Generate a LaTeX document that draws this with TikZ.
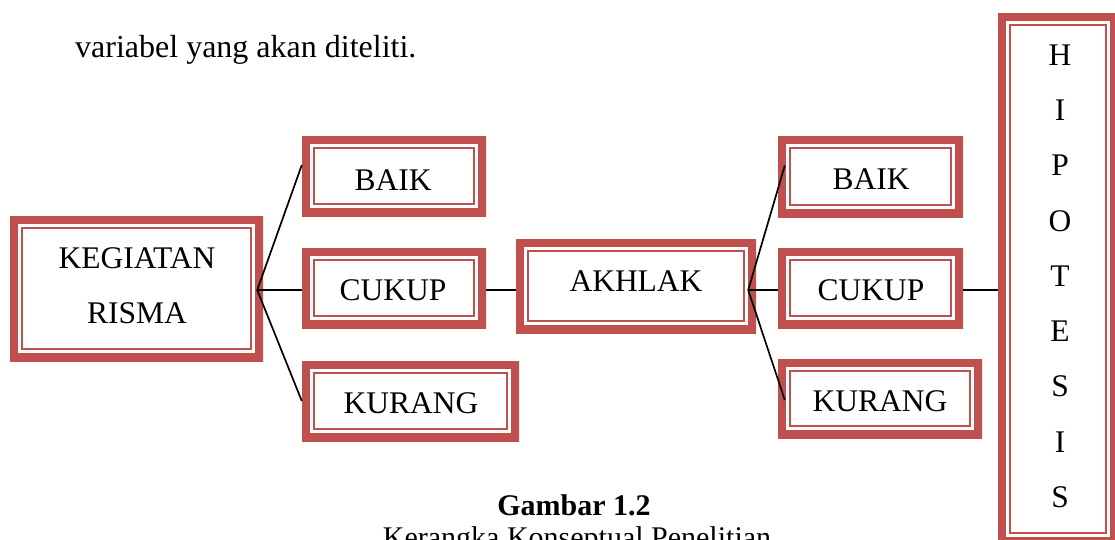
\documentclass[tikz,border=0pt]{standalone}
\usepackage{fontspec}
\setmainfont{Liberation Serif}
\definecolor{frc}{HTML}{C0504D}
\tikzset{
  frame/.style={rectangle, inner sep=0pt,
    path picture={
      \draw[frc, line width=16pt] (path picture bounding box.north west) rectangle (path picture bounding box.south east);
      \draw[frc, line width=1.8pt] ([shift={(12pt,-12pt)}]path picture bounding box.north west) rectangle ([shift={(-12pt,12pt)}]path picture bounding box.south east);
    }},
  lbl/.style={inner sep=0pt, anchor=base, align=center, font=\fontsize{31.5}{55}\selectfont},
  conn/.style={draw=black, line width=1.7pt},
  plain/.style={inner sep=0pt}
}
\begin{document}
\begin{tikzpicture}[x=1pt, y=-1pt]
\useasboundingbox (0,0) rectangle (1115,539);
\fill[white] (0,0) rectangle (1115,539);

\node[plain, anchor=base west, font=\fontsize{32}{38}\selectfont] (intro) at (75,57) {variabel yang akan diteliti.};

% frames
\node[frame, minimum width=253pt, minimum height=145pt] (keg) at (136.5,288.5) {};
\node[frame, minimum width=184pt, minimum height=80pt] (baikA) at (394,176) {};
\node[frame, minimum width=184pt, minimum height=80pt] (cukupA) at (394,288) {};
\node[frame, minimum width=217pt, minimum height=80pt] (kurangA) at (410.5,401) {};
\node[frame, minimum width=240pt, minimum height=94pt] (akh) at (636,286) {};
\node[frame, minimum width=185pt, minimum height=81pt] (baikB) at (870.5,176.5) {};
\node[frame, minimum width=185pt, minimum height=80pt] (cukupB) at (870.5,288) {};
\node[frame, minimum width=204pt, minimum height=79pt] (kurangB) at (880,398.5) {};
\node[frame, minimum width=120pt, minimum height=532pt] (hip) at (1058,279) {};

% labels (multi-line labels are anchored at the baseline of their last line)
\node[lbl] (tkeg) at (137,323) {KEGIATAN\\RISMA};
\node[lbl] (tbaikA) at (393,190) {BAIK};
\node[lbl] (tcukupA) at (393,300) {CUKUP};
\node[lbl] (tkurangA) at (411,413.5) {KURANG};
\node[lbl] (takh) at (636,291) {AKHLAK};
\node[lbl] (tbaikB) at (871,189) {BAIK};
\node[lbl] (tcukupB) at (871,300) {CUKUP};
\node[lbl] (tkurangB) at (880,411) {KURANG};
\node[lbl, font=\fontsize{31.5}{55.25}\selectfont] (thip) at (1060,507.4) {H\\I\\P\\O\\T\\E\\S\\I\\S};

% connectors
\coordinate (kv) at ([shift={(-6pt,-1.5pt)}]keg.east);
\coordinate (av) at ([shift={(-8pt,-4pt)}]akh.east);
\draw[conn] (kv) -- ([yshift=11pt]baikA.west);
\draw[conn] (kv) -- (cukupA.west |- kv);
\draw[conn] (kv) -- (kurangA.west);
\draw[conn] (cukupA.east |- kv) -- (akh.west |- kv);
\draw[conn] (av) -- ([shift={(7pt,11pt)}]baikB.west);
\draw[conn] (av) -- (cukupB.west |- av);
\draw[conn] (av) -- ([shift={(7pt,-1.5pt)}]kurangB.west);
\draw[conn] (cukupB.east |- av) -- (hip.west |- av);

\node[plain, anchor=base, font=\fontsize{30}{36}\selectfont\bfseries] (cap) at (574,515) {Gambar 1.2};
\node[plain, anchor=base, font=\fontsize{30}{36}\selectfont] (sub) at (577,547) {Kerangka Konseptual Penelitian};
\end{tikzpicture}
\end{document}
